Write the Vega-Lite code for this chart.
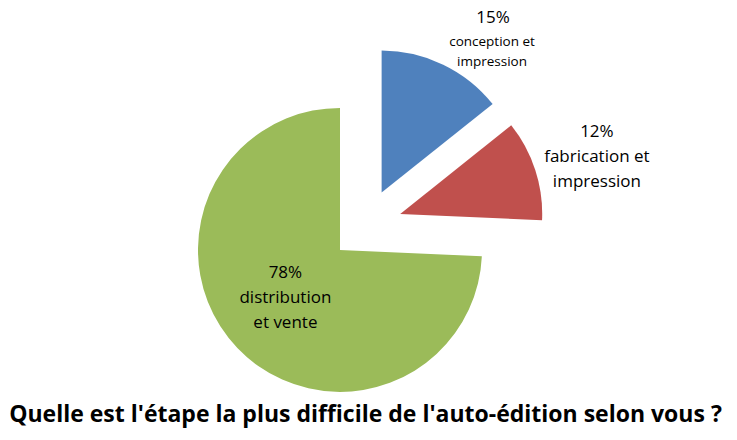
{
  "$schema": "https://vega.github.io/schema/vega-lite/v6.json",
  "width": 737,
  "height": 440,
  "padding": 0,
  "autosize": {"type": "none"},
  "background": "white",
  "view": {"stroke": null},
  "title": {
    "text": "Quelle est l'étape la plus difficile de l'auto-édition selon vous ?",
    "orient": "bottom",
    "anchor": "middle",
    "baseline": "alphabetic",
    "offset": -18,
    "dx": -3,
    "font": "Open Sans",
    "fontSize": 23,
    "fontWeight": "bold",
    "color": "black"
  },
  "data": {
    "values": [
      {"ordre": 1, "etape": "conception et impression", "pct": "15%", "valeur": 15},
      {"ordre": 2, "etape": "fabrication et impression", "pct": "12%", "valeur": 12},
      {"ordre": 3, "etape": "distribution et vente", "pct": "78%", "valeur": 78}
    ]
  },
  "encoding": {
    "theta": {"field": "valeur", "type": "quantitative", "stack": true},
    "order": {"field": "ordre", "type": "quantitative"}
  },
  "layer": [
    {
      "mark": {"type": "arc", "outerRadius": 142, "xOffset": 13.1, "yOffset": -27.4},
      "encoding": {
        "color": {
          "field": "etape", "type": "nominal", "legend": null,
          "scale": {"domain": ["conception et impression", "fabrication et impression", "distribution et vente"], "range": ["#4F81BD", "#C0504D", "#9BBB59"]}
        },
        "opacity": {"condition": {"test": "datum.ordre == 1", "value": 1}, "value": 0}
      }
    },
    {
      "mark": {"type": "arc", "outerRadius": 142, "xOffset": 31.7, "yOffset": -6.1},
      "encoding": {
        "color": {"field": "etape", "type": "nominal", "legend": null},
        "opacity": {"condition": {"test": "datum.ordre == 2", "value": 1}, "value": 0}
      }
    },
    {
      "mark": {"type": "arc", "outerRadius": 142, "xOffset": -28.5, "yOffset": 29.9},
      "encoding": {
        "color": {"field": "etape", "type": "nominal", "legend": null},
        "opacity": {"condition": {"test": "datum.ordre == 3", "value": 1}, "value": 0}
      }
    },
    {
      "mark": {"type": "text", "radius": 190, "xOffset": 13.1, "yOffset": -27.4, "dx": 29, "dy": -3, "font": "Open Sans", "fontSize": 17, "color": "black"},
      "encoding": {
        "text": {"field": "pct"},
        "opacity": {"condition": {"test": "datum.ordre == 1", "value": 1}, "value": 0}
      }
    },
    {
      "mark": {"type": "text", "radius": 160, "xOffset": 13.1, "yOffset": -27.4, "dx": 41, "dy": -6, "font": "Open Sans", "fontSize": 13.5, "lineHeight": 20, "lineBreak": "\n", "color": "black"},
      "encoding": {
        "text": {"value": "conception et\nimpression"},
        "opacity": {"condition": {"test": "datum.ordre == 1", "value": 1}, "value": 0}
      }
    },
    {
      "mark": {"type": "text", "radius": 190, "xOffset": 31.7, "yOffset": -6.1, "dx": 16, "dy": -23, "font": "Open Sans", "fontSize": 17, "lineHeight": 25, "lineBreak": "\n", "color": "black"},
      "encoding": {
        "text": {"value": "12%\nfabrication et\nimpression"},
        "opacity": {"condition": {"test": "datum.ordre == 2", "value": 1}, "value": 0}
      }
    },
    {
      "mark": {"type": "text", "radius": 70, "xOffset": -28.5, "yOffset": 29.9, "dx": -4, "dy": -25, "font": "Open Sans", "fontSize": 17, "lineHeight": 25, "lineBreak": "\n", "color": "black"},
      "encoding": {
        "text": {"value": "78%\ndistribution\net vente"},
        "opacity": {"condition": {"test": "datum.ordre == 3", "value": 1}, "value": 0}
      }
    }
  ]
}
